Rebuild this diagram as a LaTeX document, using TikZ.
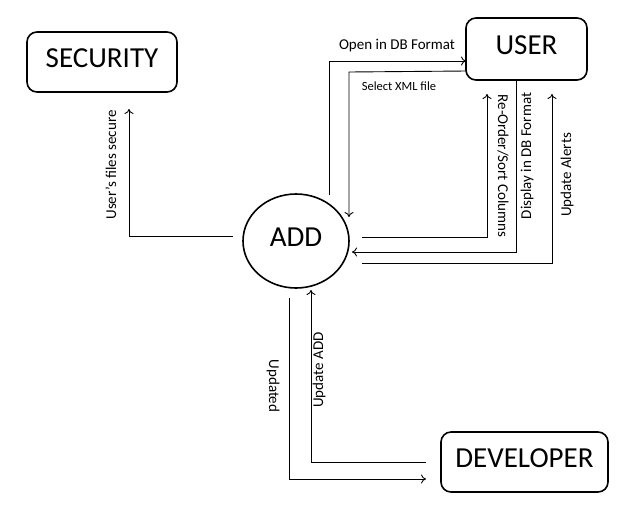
\documentclass[tikz,border=0pt]{standalone}
\usepackage{fontspec}
\setmainfont{Carlito}
\usetikzlibrary{arrows.meta,shapes.geometric}
\begin{document}
\begin{tikzpicture}[x=1pt,y=-1pt,
  bigtext/.style={font=\fontsize{29}{32}\selectfont,text height=18pt,text depth=8pt},
  entity/.style={draw,line width=1.6pt,rounded corners=10pt,inner sep=0pt,bigtext},
  flow/.style={line width=0.9pt,-{To[length=5pt,width=9pt]}},
  lbl/.style={font=\fontsize{15}{17}\selectfont,inner sep=0pt},
  slbl/.style={font=\fontsize{12.5}{14}\selectfont,inner sep=0pt}]
\useasboundingbox (0,0) rectangle (617,515);
\node[entity,minimum width=150pt,minimum height=60pt] (sec) at (102,62) {SECURITY};
\node[entity,minimum width=121pt,minimum height=62pt] (user) at (526.5,49) {USER};
\node[entity,minimum width=167pt,minimum height=60pt] (dev) at (524.5,462) {DEVELOPER};
\node[draw,ellipse,line width=1.6pt,minimum width=106pt,minimum height=94pt,inner sep=0pt,bigtext] (add) at (296,241) {ADD};

% ADD -> SECURITY
\coordinate (a1) at (233,236);
\coordinate (a2) at (129,236);
\coordinate (a3) at (129,109);
\draw[flow] (a1) -- (a2) -- (a3);
\node[lbl,rotate=90] (l1) at (111,165) {User’s files secure};

% ADD -> USER (Open in DB Format)
\coordinate (b1) at (329,195);
\coordinate (b2) at (329,61);
\coordinate (b3) at (466,61);
\draw[flow] (b1) -- (b2) -- (b3);
\node[lbl] (l2) at (397,46) {Open in DB Format};

% USER -> ADD (Select XML file)
\coordinate (c1) at (466,71);
\coordinate (c2) at (349,72);
\coordinate (c3) at (349,217);
\draw[flow] (c1) -- (c2) -- (c3);
\node[slbl] (l3) at (399,86) {Select XML file};

% ADD -> USER (Re-Order/Sort Columns)
\coordinate (d1) at (362,237);
\coordinate (d2) at (487,237);
\coordinate (d3) at (487,94);
\draw[flow] (d1) -- (d2) -- (d3);
\node[lbl,rotate=-90] (l4) at (503,166) {Re-Order/Sort Columns};

% USER -> ADD (Display in DB Format)
\coordinate (e1) at (516,80);
\coordinate (e2) at (516,252);
\coordinate (e3) at (352,252);
\draw[flow] (e1) -- (e2) -- (e3);
\node[lbl,rotate=90] (l5) at (527,156) {Display in DB Format};

% ADD -> USER (Update Alerts)
\coordinate (f1) at (362,263);
\coordinate (f2) at (552,263);
\coordinate (f3) at (552,94);
\draw[flow] (f1) -- (f2) -- (f3);
\node[lbl,rotate=90] (l6) at (567,175) {Update Alerts};

% ADD -> DEVELOPER (Updated)
\coordinate (g1) at (289,298);
\coordinate (g2) at (289,479);
\coordinate (g3) at (426,479);
\draw[flow] (g1) -- (g2) -- (g3);
\node[lbl,rotate=-90] (l7) at (273,386) {Updated};

% DEVELOPER -> ADD (Update ADD)
\coordinate (h1) at (426,462);
\coordinate (h2) at (311,462);
\coordinate (h3) at (311,290);
\draw[flow] (h1) -- (h2) -- (h3);
\node[lbl,rotate=90] (l8) at (319,370) {Update ADD};
\end{tikzpicture}
\end{document}
